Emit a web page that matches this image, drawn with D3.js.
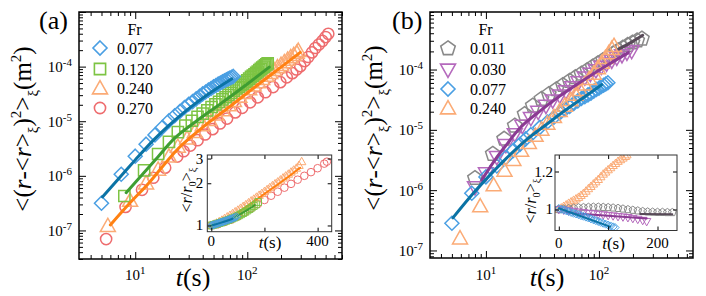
<!DOCTYPE html>
<html><head><meta charset="utf-8">
<script src="https://cdn.jsdelivr.net/npm/d3@7"></script>
<style>
body{margin:0;background:#fff}
svg{display:block}
text{font-family:"Liberation Serif","Times New Roman",serif;fill:#000}
</style>
</head><body>
<svg id="c" width="706" height="296"></svg>
<script>
// ---------------- DATA ----------------
// Panel (a): Fr legend
const frA = ["0.077", "0.120", "0.240", "0.270"];
// Panel (b): Fr legend
const frB = ["0.011", "0.030", "0.077", "0.240"];

// Tick labels
const xTickLabelsMain = [10, 100];
const yTickLabelsMain = [1e-7, 1e-6, 1e-5, 1e-4];
const insetXTicksA = [0, 200, 400], insetXLabelsA = [0, 400], insetYTicksA = [1, 2, 3];
const insetXTicksB = [0, 100, 200], insetXLabelsB = [0, 200], insetYTicksB = [1, 1.2];

// (a) Fr=0.077 diamonds
const tA077 = [5,7.5,10,12.5,15,17.5,20,22.5,25,27.5,30,32.5,35,37.5,40,42.5,45,47.5,50,52.5,55,57.5,60,62.5,65,67.5,70,72.5,75];
const vA077 = [3.16e-7,1.07e-6,2.29e-6,3.80e-6,5.62e-6,7.76e-6,1.02e-5,1.26e-5,1.51e-5,1.78e-5,2.04e-5,2.29e-5,2.57e-5,2.85e-5,3.16e-5,3.43e-5,3.72e-5,3.98e-5,4.27e-5,4.52e-5,4.79e-5,5.01e-5,5.25e-5,5.50e-5,5.75e-5,5.96e-5,6.17e-5,6.38e-5,6.61e-5];
const tFitA077 = [5.1,7.5,10,15,20,30,45,73];
const vFitA077 = [4.1e-7,1.0e-6,1.95e-6,4.8e-6,8.4e-6,1.7e-5,3.15e-5,6.0e-5];
// (a) Fr=0.120 squares
const tA120 = [8,12,16,20,24,28,32,36,40,44,48,52,56,60,64,68,72,76,80,84,88,92,96,100,104,108,112,116,120,124,128,132,136,140,144,148,152];
const vA120 = [4.27e-7,1.26e-6,2.51e-6,4.17e-6,6.31e-6,8.32e-6,1.02e-5,1.20e-5,1.38e-5,1.58e-5,1.82e-5,2.04e-5,2.26e-5,2.51e-5,2.75e-5,3.02e-5,3.31e-5,3.63e-5,3.98e-5,4.27e-5,4.57e-5,4.90e-5,5.25e-5,5.62e-5,6.03e-5,6.46e-5,6.84e-5,7.24e-5,7.67e-5,8.13e-5,8.61e-5,9.12e-5,9.55e-5,1.00e-4,1.05e-4,1.10e-4,1.15e-4];
const tFitA120 = [8.3,12,16,21.8,35,58.6,100,157];
const vFitA120 = [4.9e-7,1.15e-6,2.24e-6,4.6e-6,1.0e-5,2.13e-5,4.8e-5,9.8e-5];
// (a) Fr=0.240 triangles
const tA240 = [5.7,9,12.5,16,20,24,29,34,40,46,53,60,68,76,85,94,104,114,125,136,148,160,173,186,200,214,229,244,260,276,285];
const vA240 = [1.20e-7,3.47e-7,7.24e-7,1.29e-6,2.24e-6,3.39e-6,4.79e-6,6.31e-6,8.41e-6,1.05e-5,1.32e-5,1.58e-5,1.95e-5,2.34e-5,2.79e-5,3.27e-5,3.85e-5,4.47e-5,5.13e-5,5.89e-5,6.76e-5,7.59e-5,8.61e-5,9.66e-5,1.07e-4,1.20e-4,1.33e-4,1.48e-4,1.62e-4,1.78e-4,1.93e-4];
const tFitA240 = [6,9,13.6,18,24,38,70,130,200,297];
const vFitA240 = [1.26e-7,3.2e-7,7.9e-7,1.58e-6,3.1e-6,7.1e-6,1.86e-5,5.0e-5,9.8e-5,1.82e-4];
// (a) Fr=0.270 circles
const tA270 = [5.5,8.2,11.5,14.5,18.5,23.7,27,31,36,42,49,57,66,78,90,106,124,145,170,197,225,252,275,297,325,350,378,405,435,468,500,528];
const vA270 = [6.95e-8,2.70e-7,5.55e-7,9.23e-7,1.41e-6,2.25e-6,2.82e-6,3.58e-6,4.49e-6,5.71e-6,7.16e-6,9.10e-6,1.12e-5,1.45e-5,1.76e-5,2.22e-5,2.74e-5,3.39e-5,4.22e-5,5.19e-5,6.35e-5,7.59e-5,8.85e-5,1.02e-4,1.26e-4,1.50e-4,1.82e-4,2.19e-4,2.54e-4,2.95e-4,3.48e-4,3.98e-4];

// (b) Fr=0.011 pentagons
const tB011 = [8,11.5,14.5,18,22,26,31,36,42,48,55,62,70,79,88,98,109,121,134,148,163,180,198,218,240];
const vB011 = [1.58e-6,3.98e-6,7.08e-6,1.17e-5,1.82e-5,2.51e-5,3.24e-5,3.89e-5,4.68e-5,5.50e-5,6.46e-5,7.41e-5,8.51e-5,9.77e-5,1.11e-4,1.26e-4,1.43e-4,1.62e-4,1.84e-4,2.07e-4,2.29e-4,2.54e-4,2.79e-4,3.02e-4,3.24e-4];
const tFitB011 = [150,195,244];
const vFitB011 = [2.2e-4,2.85e-4,3.7e-4];
// (b) Fr=0.030 down triangles
const tB030 = [8,10,12.5,15,18,21,25,29,34,39,45,51,58,66,75,84,94,105,117,130,144,160,177,195];
const vB030 = [1.12e-6,1.91e-6,3.55e-6,5.62e-6,8.51e-6,1.17e-5,1.58e-5,2.00e-5,2.51e-5,3.09e-5,3.72e-5,4.37e-5,5.13e-5,6.17e-5,7.41e-5,8.51e-5,9.77e-5,1.12e-4,1.26e-4,1.41e-4,1.58e-4,1.74e-4,1.91e-4,2.04e-4];
const tFitB030 = [9.2,12,15,20,30,45,78,120,182];
const vFitB030 = [1.48e-6,3.16e-6,5.50e-6,1.07e-5,2.04e-5,3.63e-5,7.24e-5,1.20e-4,1.91e-4];
// (b) Fr=0.077 diamonds
const tB077 = [5,7.5,10,12.5,15,17.5,20,22.5,25,30,35,40,45,50,55,60,65,70,75,80,85,90,95,100,105,110,115,120];
const vB077 = [2.82e-7,8.91e-7,1.66e-6,2.51e-6,3.47e-6,4.57e-6,5.75e-6,7.08e-6,8.32e-6,1.10e-5,1.35e-5,1.62e-5,1.91e-5,2.19e-5,2.45e-5,2.75e-5,3.02e-5,3.31e-5,3.55e-5,3.80e-5,4.07e-5,4.37e-5,4.68e-5,4.90e-5,5.25e-5,5.50e-5,5.75e-5,6.03e-5];
const tFitB077 = [5.1,7.5,10,15,22,35,50,75,106];
const vFitB077 = [3.47e-7,8.32e-7,1.51e-6,3.31e-6,6.46e-6,1.26e-5,2.09e-5,3.55e-5,5.62e-5];
// (b) Fr=0.240 triangles
const tB240 = [5.9,8.9,11.7,14.6,17.5,20.5,24,27.5,31,35,40,45,50,56,62,68,75,82,90,98,106,114,122,130,136];
const vB240 = [1.58e-7,5.37e-7,1.20e-6,2.09e-6,3.16e-6,4.47e-6,6.03e-6,7.94e-6,1.00e-5,1.26e-5,1.62e-5,2.04e-5,2.51e-5,3.09e-5,3.80e-5,4.57e-5,5.62e-5,6.92e-5,8.51e-5,1.05e-4,1.29e-4,1.55e-4,1.86e-4,2.19e-4,2.45e-4];

// Inset (a): <r/r0>
const tIA077 = [0,5,10,15,20,25,30,35,40,45,50,55,60,65,70,75,80,85,90,95];
const vIA077 = [1.000,1.006,1.013,1.020,1.027,1.034,1.042,1.049,1.057,1.065,1.073,1.081,1.090,1.098,1.107,1.116,1.125,1.134,1.144,1.155];
const tFitIA077 = [5,40,80], vFitIA077 = [1.004,1.052,1.118];
const tIA120 = [0,8,16,24,32,40,48,56,64,72,80,88,96,104,112,120,128,136,144,152,160,168,176];
const vIA120 = [1.000,1.010,1.020,1.031,1.042,1.054,1.066,1.079,1.093,1.108,1.124,1.141,1.160,1.180,1.202,1.226,1.252,1.280,1.310,1.342,1.376,1.412,1.47];
const tFitIA120 = [0,40,89,130,164], vFitIA120 = [1.0,1.05,1.15,1.27,1.40];
const tIA240 = [0,10,20,30,40,50,60,70,80,90,100,110,120,130,140,150,160,170,180,190,200,210,220,230,240,250,260,270,280,290,300,310,320,330,340];
const vIA240 = [1.00,1.02,1.04,1.065,1.09,1.12,1.15,1.18,1.215,1.25,1.285,1.325,1.365,1.405,1.45,1.495,1.54,1.59,1.64,1.69,1.745,1.80,1.86,1.92,1.98,2.04,2.11,2.18,2.25,2.32,2.40,2.48,2.56,2.68,2.85];
const tFitIA240 = [0,50,100,150,200,250,300,334], vFitIA240 = [1.0,1.09,1.24,1.44,1.68,1.96,2.30,2.58];
const tIA270 = [0,25,50,75,100,125,150,175,200,225,250,275,300,325,350,375,400,425,435];
const vIA270 = [1.0,1.02,1.06,1.10,1.16,1.24,1.33,1.42,1.52,1.63,1.74,1.86,1.98,2.12,2.26,2.40,2.56,2.76,2.85];

// Inset (b): <r/r0>
const tIB011 = [0,10,20,30,40,50,60,70,80,90,100,110,120,130,140,150,160,170,180,190,200,210,220,230];
const vIB011 = [1.000,1.003,1.005,1.007,1.009,1.010,1.011,1.012,1.012,1.011,1.010,1.008,1.006,1.003,1.000,0.997,0.994,0.991,0.989,0.988,0.987,0.987,0.986,0.986];
const tFitIB011 = [165,230], vFitIB011 = [0.979,0.977];
const tIB030 = [0,10,20,30,40,50,60,70,80,90,100,110,120,130,140,150,160,170,178];
const vIB030 = [1.0,0.997,0.994,0.991,0.988,0.985,0.982,0.980,0.977,0.975,0.972,0.970,0.967,0.965,0.962,0.958,0.954,0.949,0.944];
const tFitIB030 = [15,178], vFitIB030 = [0.985,0.958];
const tIB077 = [0,5,10,15,20,25,30,35,40,45,50,55,60,65,70,75,80,85,90,95,100,105,110,114];
const vIB077 = [1.005,1.001,0.998,0.994,0.990,0.986,0.982,0.979,0.975,0.971,0.968,0.964,0.960,0.956,0.952,0.948,0.944,0.940,0.936,0.932,0.928,0.924,0.920,0.917];
const tFitIB077 = [0,104], vFitIB077 = [1.006,0.921];
const tIB240 = [0,5,10,15,20,25,30,35,40,45,50,55,60,65,70,75,80,85,90,95,100,105,110,115,120,125,130,135,138];
const vIB240 = [1.00,1.007,1.015,1.022,1.03,1.037,1.045,1.052,1.06,1.07,1.08,1.092,1.105,1.117,1.13,1.142,1.155,1.17,1.185,1.197,1.21,1.222,1.235,1.247,1.26,1.27,1.28,1.29,1.30];

// ---------------- STYLE ----------------
const C = {
  blue: "#4a9fe3", blueL: "#0b73a5",
  green: "#7dc443", greenL: "#3f9e32",
  orange: "#fbab76", orangeL: "#ff8112",
  red: "#ee6c6e",
  gray: "#898989", grayL: "#584a58",
  purple: "#b56abd", purpleL: "#8b3a93"
};

const svg = d3.select("#c");

function shapePath(type, s) {
  switch (type) {
    case "diamond": return `M0,${-s}L${s},0L0,${s}L${-s},0Z`;
    case "square": return `M${-s},${-s}H${s}V${s}H${-s}Z`;
    case "tri": return `M0,${-s * 1.05}L${s},${s * 0.72}L${-s},${s * 0.72}Z`;
    case "tridown": return `M0,${s * 1.05}L${s},${-s * 0.72}L${-s},${-s * 0.72}Z`;
    case "circle": return `M${s},0A${s},${s} 0 1,1 ${-s},0A${s},${s} 0 1,1 ${s},0Z`;
    case "pent": {
      const pts = d3.range(5).map(k => {
        const a = (-90 + 72 * k) * Math.PI / 180;
        return [s * Math.cos(a), s * Math.sin(a)];
      });
      return "M" + pts.map(p => p.join(",")).join("L") + "Z";
    }
  }
}
const mainSize = { diamond: 7, square: 5.6, tri: 7.5, tridown: 7.5, circle: 5.6, pent: 7.6 };
const insetSize = { diamond: 4, square: 3.4, tri: 4.2, tridown: 4.2, circle: 3.8, pent: 4 };

function tickSet(g, axisGen, scale, vals, len, transform) {
  const a = axisGen(scale).tickValues(vals).tickSizeInner(-len).tickSizeOuter(0).tickFormat("");
  const ag = g.append("g").attr("transform", transform).call(a);
  ag.attr("font-family", null).attr("font-size", null);
  ag.select(".domain").remove();
  ag.selectAll("line").attr("stroke", "#000").attr("stroke-width", 1);
  ag.selectAll("text").remove();
  return ag;
}

function markers(g, x, y, t, v, shape, size, color, sw) {
  g.append("g").selectAll("path").data(d3.zip(t, v)).join("path")
    .attr("transform", d => `translate(${x(d[0])},${y(d[1])})`)
    .attr("d", shapePath(shape, size[shape]))
    .attr("fill", "none").attr("stroke", color).attr("stroke-width", sw);
}
function fit(g, x, y, t, v, color, w) {
  const line = d3.line().x(d => x(d[0])).y(d => y(d[1])).curve(d3.curveMonotoneX);
  g.append("path").attr("d", line(d3.zip(t, v))).attr("fill", "none")
    .attr("stroke", color).attr("stroke-width", w).attr("stroke-linecap", "round");
}

function pow10Label(g, xpos, ypos, v, anchor) {
  const t = g.append("text").attr("x", xpos).attr("y", ypos).attr("text-anchor", anchor).attr("font-size", 15);
  t.append("tspan").text("10");
  t.append("tspan").attr("dy", -6).attr("font-size", 11).text(String(Math.round(Math.log10(v))));
}

function yTitle(g, cx, cy, fs) {
  const parts = [["<(", 0], ["r", 0, true], ["-<", 0], ["r", 0, true], [">", 0], ["ξ", 1], [")", 0], ["2", -1], [">", 0], ["ξ", 1], ["(m", 0], ["2", -1], [")", 0]];
  const t = g.append("text").attr("transform", `translate(${cx},${cy}) rotate(-90)`)
    .attr("text-anchor", "middle").attr("font-size", fs);
  let cur = 0;
  parts.forEach(([s, lvl, it]) => {
    const off = lvl === 1 ? fs * 0.28 : lvl === -1 ? -fs * 0.42 : 0;
    const sp = t.append("tspan").attr("dy", off - cur).text(s);
    cur = off;
    if (lvl !== 0) sp.attr("font-size", fs * 0.6);
    if (it) sp.attr("font-style", "italic");
  });
}
function tTitle(g, cx, by, fs) {
  const t = g.append("text").attr("x", cx).attr("y", by).attr("text-anchor", "middle").attr("font-size", fs);
  t.append("tspan").attr("font-style", "italic").text("t");
  t.append("tspan").text("(s)");
}
function insetYTitle(g, cx, cy, fs) {
  const t = g.append("text").attr("transform", `translate(${cx},${cy}) rotate(-90)`)
    .attr("text-anchor", "middle").attr("font-size", fs);
  t.append("tspan").text("<");
  t.append("tspan").attr("font-style", "italic").text("r");
  t.append("tspan").text("/");
  t.append("tspan").attr("font-style", "italic").text("r");
  t.append("tspan").attr("dy", fs * 0.28).attr("font-size", fs * 0.65).text("0");
  t.append("tspan").attr("dy", -fs * 0.28).text(">");
  t.append("tspan").attr("dy", fs * 0.28).attr("font-size", fs * 0.65).text("ξ");
}

function mainPanel(p) {
  const x = d3.scaleLog().domain(p.xd).range([p.L, p.R]);
  const y = d3.scaleLog().domain(p.yd).range([p.B, p.T]);
  const g = svg.append("g");
  const isMaj = v => Math.abs(Math.log10(v) - Math.round(Math.log10(v))) < 1e-9;
  const xt = x.ticks(), yt = y.ticks();
  const xM = xt.filter(isMaj), xm = xt.filter(v => !isMaj(v));
  const yM = yt.filter(isMaj), ym = yt.filter(v => !isMaj(v));
  tickSet(g, d3.axisBottom, x, xM, 7, `translate(0,${p.B})`);
  tickSet(g, d3.axisBottom, x, xm, 4, `translate(0,${p.B})`);
  tickSet(g, d3.axisTop, x, xM, 7, `translate(0,${p.T})`);
  tickSet(g, d3.axisTop, x, xm, 4, `translate(0,${p.T})`);
  tickSet(g, d3.axisLeft, y, yM, 7, `translate(${p.L},0)`);
  tickSet(g, d3.axisLeft, y, ym, 4, `translate(${p.L},0)`);
  tickSet(g, d3.axisRight, y, yM, 7, `translate(${p.R},0)`);
  tickSet(g, d3.axisRight, y, ym, 4, `translate(${p.R},0)`);
  g.append("rect").attr("x", p.L).attr("y", p.T).attr("width", p.R - p.L).attr("height", p.B - p.T)
    .attr("fill", "none").attr("stroke", "#000").attr("stroke-width", 1.5);
  xTickLabelsMain.forEach(v => pow10Label(g, x(v), 280, v, "middle"));
  yTickLabelsMain.forEach(v => pow10Label(g, p.L - 7, y(v) + 5.5, v, "end"));
  p.series.forEach(s => markers(g, x, y, s.t, s.v, s.shape, mainSize, s.color, 1.5));
  p.fits.forEach(f => fit(g, x, y, f.t, f.v, f.color, 3));
  return g;
}

function insetPanel(p) {
  const x = d3.scaleLinear().domain(p.xd).range([p.L, p.R]);
  const y = d3.scaleLog().domain(p.yd).range([p.B, p.T]);
  const g = svg.append("g");
  const id = "clip" + p.id;
  g.append("clipPath").attr("id", id).append("rect")
    .attr("x", p.L).attr("y", p.T).attr("width", p.R - p.L).attr("height", p.B - p.T);
  g.append("rect").attr("x", p.L).attr("y", p.T).attr("width", p.R - p.L).attr("height", p.B - p.T)
    .attr("fill", "#fff");
  const d = g.append("g").attr("clip-path", `url(#${id})`);
  p.layers.forEach(s => {
    if (s.shape) markers(d, x, y, s.t, s.v, s.shape, insetSize, s.color, 1);
    else fit(d, x, y, s.t, s.v, s.color, 2);
  });
  tickSet(g, d3.axisBottom, x, p.xTicks, 4, `translate(0,${p.B})`);
  tickSet(g, d3.axisTop, x, p.xTicks, 4, `translate(0,${p.T})`);
  tickSet(g, d3.axisLeft, y, p.yTicks, 4, `translate(${p.L},0)`);
  tickSet(g, d3.axisRight, y, p.yTicks, 4, `translate(${p.R},0)`);
  g.append("rect").attr("x", p.L).attr("y", p.T).attr("width", p.R - p.L).attr("height", p.B - p.T)
    .attr("fill", "none").attr("stroke", "#333").attr("stroke-width", 1);
  p.xLabels.forEach(v => g.append("text").attr("x", x(v)).attr("y", p.xLabY)
    .attr("text-anchor", "middle").attr("font-size", 15).text(v));
  p.yTicks.forEach(v => g.append("text").attr("x", p.L - p.yPad).attr("y", y(v) + 5)
    .attr("text-anchor", "end").attr("font-size", 15).text(v));
}

// ---------------- PANEL (a) ----------------
const gA = mainPanel({
  L: 79, R: 342, T: 12, B: 259, xd: [3.15, 700], yd: [3e-8, 1e-3],
  series: [
    { t: tA270, v: vA270, shape: "circle", color: C.red },
    { t: tA240, v: vA240, shape: "tri", color: C.orange },
    { t: tA120, v: vA120, shape: "square", color: C.green },
    { t: tA077, v: vA077, shape: "diamond", color: C.blue }
  ],
  fits: [
    { t: tFitA240, v: vFitA240, color: C.orangeL },
    { t: tFitA120, v: vFitA120, color: C.greenL },
    { t: tFitA077, v: vFitA077, color: C.blueL }
  ]
});
// ---------------- PANEL (b) ----------------
const gB = mainPanel({
  L: 430, R: 693, T: 12, B: 258, xd: [3.2, 680], yd: [7.5e-8, 9e-4],
  series: [
    { t: tB011, v: vB011, shape: "pent", color: C.gray },
    { t: tB030, v: vB030, shape: "tridown", color: C.purple },
    { t: tB077, v: vB077, shape: "diamond", color: C.blue },
    { t: tB240, v: vB240, shape: "tri", color: C.orange }
  ],
  fits: [
    { t: tFitB011, v: vFitB011, color: C.grayL },
    { t: tFitB030, v: vFitB030, color: C.purpleL },
    { t: tFitB077, v: vFitB077, color: C.blueL }
  ]
});

// titles
yTitle(svg, 31, 129, 25);
yTitle(svg, 382, 128, 25);
tTitle(svg, 193, 286, 26);
tTitle(svg, 547, 286, 26);
svg.append("text").attr("x", 39).attr("y", 29).attr("font-size", 26).text("(a)");
svg.append("text").attr("x", 392).attr("y", 29).attr("font-size", 26).text("(b)");

// legends
function legend(x0, tx, ys, titleX, labels, shapes, colors) {
  svg.append("text").attr("x", titleX).attr("y", 35).attr("text-anchor", "middle").attr("font-size", 16).text("Fr");
  labels.forEach((lab, i) => {
    svg.append("path").attr("transform", `translate(${x0},${ys[i]})`)
      .attr("d", shapePath(shapes[i], mainSize[shapes[i]]))
      .attr("fill", "none").attr("stroke", colors[i]).attr("stroke-width", 1.6);
    svg.append("text").attr("x", tx).attr("y", ys[i] + 5.5).attr("font-size", 16).text(lab);
  });
}
legend(100, 117, [48, 69, 88.5, 108], 134.5, frA, ["diamond", "square", "tri", "circle"], [C.blue, C.green, C.orange, C.red]);
legend(448, 470, [48.5, 69.5, 89, 108.5], 485.5, frB, ["pent", "tridown", "diamond", "tri"], [C.gray, C.purple, C.blue, C.orange]);

// ---------------- INSETS ----------------
insetPanel({
  id: "A", L: 207.3, R: 331.7, T: 155, B: 231.7, xd: [-15, 453], yd: [0.903, 3.18],
  xTicks: insetXTicksA, xLabels: insetXLabelsA, yTicks: insetYTicksA, xLabY: 246, yPad: 4,
  layers: [
    { t: tIA270, v: vIA270, shape: "circle", color: C.red },
    { t: tIA240, v: vIA240, shape: "tri", color: C.orange },
    { t: tFitIA240, v: vFitIA240, color: C.orangeL },
    { t: tIA120, v: vIA120, shape: "square", color: C.green },
    { t: tFitIA120, v: vFitIA120, color: C.greenL },
    { t: tIA077, v: vIA077, shape: "diamond", color: C.blue },
    { t: tFitIA077, v: vFitIA077, color: C.blueL }
  ]
});
insetPanel({
  id: "B", L: 555, R: 677, T: 155, B: 230.5, xd: [-7.7, 239.5], yd: [0.904, 1.299],
  xTicks: insetXTicksB, xLabels: insetXLabelsB, yTicks: insetYTicksB, xLabY: 248, yPad: 2,
  layers: [
    { t: tIB240, v: vIB240, shape: "tri", color: C.orange },
    { t: tIB011, v: vIB011, shape: "pent", color: C.gray },
    { t: tFitIB011, v: vFitIB011, color: C.grayL },
    { t: tIB030, v: vIB030, shape: "tridown", color: C.purple },
    { t: tFitIB030, v: vFitIB030, color: C.purpleL },
    { t: tIB077, v: vIB077, shape: "diamond", color: C.blue },
    { t: tFitIB077, v: vFitIB077, color: C.blueL }
  ]
});
tTitle(svg, 270, 248, 17);
tTitle(svg, 613.5, 249, 17);
insetYTitle(svg, 192, 190, 16);
insetYTitle(svg, 536, 201, 16);
</script>
</body></html>
